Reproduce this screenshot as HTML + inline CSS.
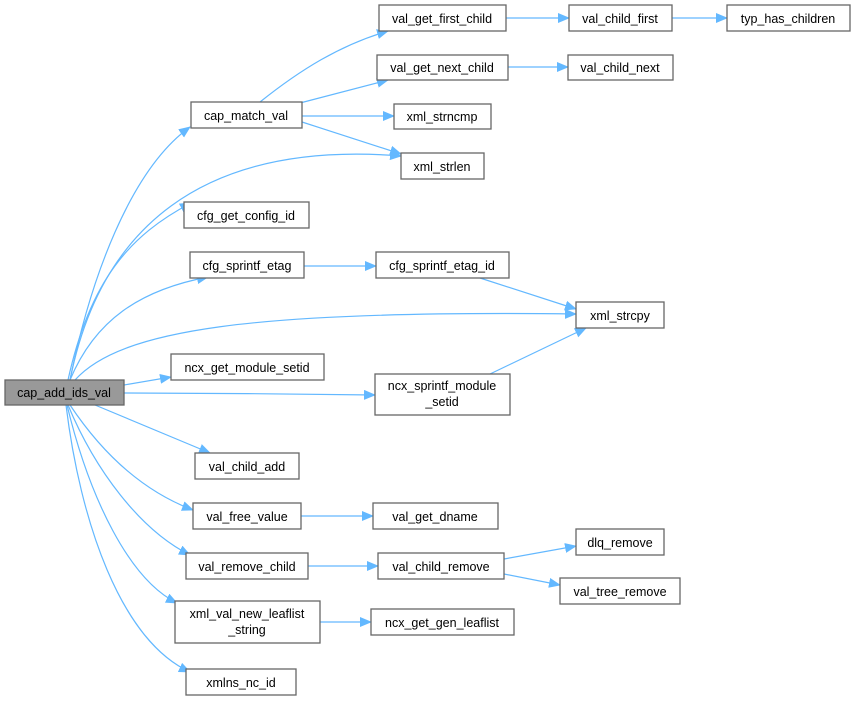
<!DOCTYPE html>
<html><head><meta charset="utf-8"><style>
html,body{margin:0;padding:0;background:#fff;}
svg text{font-family:"Liberation Sans",Arial,sans-serif;font-size:12.5px;fill:#000;text-anchor:middle;}
.n{fill:#fff;stroke:#666;stroke-width:1.3}
.e{fill:none;stroke:#63b8ff;stroke-width:1.2}
</style></head><body>
<svg width="853" height="700" viewBox="0 0 853 700" xmlns="http://www.w3.org/2000/svg">
<defs><marker id="a" viewBox="0 0 12 10" refX="11" refY="5" markerWidth="12" markerHeight="10" markerUnits="userSpaceOnUse" orient="auto"><path d="M0,0 L12,5 L0,10 z" fill="#63b8ff"/></marker></defs>
<g class="e" marker-end="url(#a)">
<path d="M70,380 C90,280 130,170 190,127"/>
<path d="M68,380 C90,280 130,235 191,203"/>
<path d="M70,380 C95,320 140,290 208,277"/>
<path d="M75,380 C120,330 250,310 576,314"/>
<path d="M124,385 L171,377"/>
<path d="M124,393 C200,393 300,394 375,395"/>
<path d="M95,405 L210,453"/>
<path d="M70,405 C100,450 140,490 193,510"/>
<path d="M68,405 C95,470 140,530 190,555"/>
<path d="M67,405 C90,500 130,580 177,603"/>
<path d="M66,405 C80,520 120,640 190,672"/>
<path d="M70,380 C100,230 200,140 401,156" />
<path d="M260,102 C300,70 340,45 388,31"/>
<path d="M300,103 L388,80"/>
<path d="M302,116 L394,116"/>
<path d="M302,122 L401,154"/>
<path d="M506,18 L569,18"/>
<path d="M672,18 L727,18"/>
<path d="M508,67 L568,67"/>
<path d="M304,266 L376,266"/>
<path d="M480,278 L576,309"/>
<path d="M490,374 L586,328"/>
<path d="M301,516 L373,516"/>
<path d="M308,566 L378,566"/>
<path d="M504,559 L576,546"/>
<path d="M504,574 L560,585"/>
<path d="M320,622 L371,622"/>
</g>
<rect class="n" x="5" y="380" width="119" height="25" style="fill:#999"/><text x="64" y="397">cap_add_ids_val</text>
<rect class="n" x="191" y="102" width="111" height="26"/><text x="246" y="120">cap_match_val</text>
<rect class="n" x="379" y="5" width="127" height="26"/><text x="442" y="23">val_get_first_child</text>
<rect class="n" x="569" y="5" width="103" height="26"/><text x="620" y="23">val_child_first</text>
<rect class="n" x="727" y="5" width="123" height="26"/><text x="788" y="23">typ_has_children</text>
<rect class="n" x="377" y="55" width="131" height="25"/><text x="442" y="72">val_get_next_child</text>
<rect class="n" x="568" y="55" width="105" height="25"/><text x="620" y="72">val_child_next</text>
<rect class="n" x="394" y="104" width="97" height="25"/><text x="442" y="121">xml_strncmp</text>
<rect class="n" x="401" y="153" width="83" height="26"/><text x="442" y="171">xml_strlen</text>
<rect class="n" x="184" y="202" width="125" height="26"/><text x="246" y="220">cfg_get_config_id</text>
<rect class="n" x="190" y="252" width="114" height="26"/><text x="247" y="270">cfg_sprintf_etag</text>
<rect class="n" x="376" y="252" width="133" height="26"/><text x="442" y="270">cfg_sprintf_etag_id</text>
<rect class="n" x="576" y="302" width="88" height="26"/><text x="620" y="320">xml_strcpy</text>
<rect class="n" x="171" y="354" width="153" height="26"/><text x="247" y="372">ncx_get_module_setid</text>
<rect class="n" x="375" y="374" width="135" height="41"/><text x="442" y="390">ncx_sprintf_module</text><text x="442" y="406">_setid</text>
<rect class="n" x="195" y="453" width="104" height="26"/><text x="247" y="471">val_child_add</text>
<rect class="n" x="193" y="503" width="108" height="26"/><text x="247" y="521">val_free_value</text>
<rect class="n" x="373" y="503" width="125" height="26"/><text x="435" y="521">val_get_dname</text>
<rect class="n" x="186" y="553" width="122" height="26"/><text x="247" y="571">val_remove_child</text>
<rect class="n" x="378" y="553" width="126" height="26"/><text x="441" y="571">val_child_remove</text>
<rect class="n" x="576" y="529" width="88" height="26"/><text x="620" y="547">dlq_remove</text>
<rect class="n" x="560" y="578" width="120" height="26"/><text x="620" y="596">val_tree_remove</text>
<rect class="n" x="175" y="601" width="145" height="42"/><text x="247" y="618">xml_val_new_leaflist</text><text x="247" y="634">_string</text>
<rect class="n" x="371" y="609" width="143" height="26"/><text x="442" y="627">ncx_get_gen_leaflist</text>
<rect class="n" x="186" y="669" width="110" height="26"/><text x="241" y="687">xmlns_nc_id</text>
</svg>
</body></html>
